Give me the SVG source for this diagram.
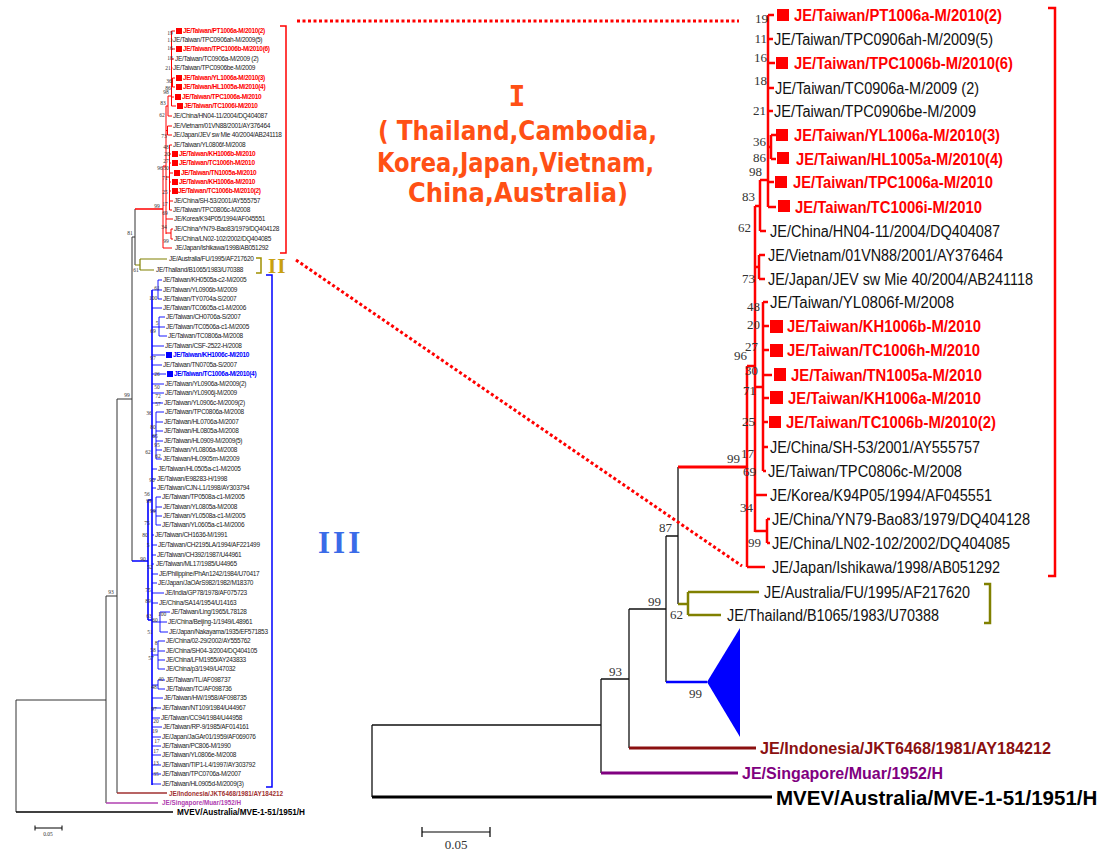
<svg xmlns="http://www.w3.org/2000/svg" width="1108" height="850" viewBox="0 0 1108 850">
<style>
text{font-family:"Liberation Sans",Arial,sans-serif}
.rn{font-size:16px;fill:#111}
.rb{font-size:16px;font-weight:bold;fill:#f00}
.bs{font-family:"Liberation Serif","Times New Roman",serif;font-size:13px;fill:#333;text-anchor:end}
.lt{font-size:6.5px;letter-spacing:-0.3px;fill:#222}
.lr{font-size:6.5px;letter-spacing:-0.35px;font-weight:bold;fill:#f00}
.lb{font-size:6.5px;letter-spacing:-0.35px;font-weight:bold;fill:#00f}
.ls{font-family:"Liberation Serif","Times New Roman",serif;font-size:5.5px;fill:#333;text-anchor:middle}
.ann{font-family:"DejaVu Sans",sans-serif;font-weight:bold;font-size:27px;fill:#ff5014}
.annI{font-family:"DejaVu Sans Mono",monospace;font-weight:bold;font-size:28px;fill:#ff5014;text-anchor:middle}
.roman{font-family:"Liberation Serif","Times New Roman",serif;font-weight:bold}
.k{stroke:#111;stroke-width:1.3;fill:none}
.kl{stroke:#333;stroke-width:1;fill:none}
.red{stroke:#f00;stroke-width:2.5;fill:none}
.redl{stroke:#f00;stroke-width:1;fill:none}
.blu{stroke:#00f;stroke-width:1.6;fill:none}
.blul{stroke:#00f;stroke-width:0.9;fill:none}
.olv{stroke:#808000;stroke-width:2.5;fill:none}
.olvl{stroke:#808000;stroke-width:1.2;fill:none}
.dot{stroke:#f00;stroke-width:3;stroke-dasharray:3 2.5;fill:none}
</style>

<!-- ============ CONNECTORS ============ -->
<g id="connectors">
  <!-- right tree backbone -->
  <path class="k" d="M372 725V797 M372 725H601 M601 679V773 M601 679H629 M629 609V748 M629 609H666 M666 536V682 M666 536H678 M678 467V604"/>
  <path class="olv" d="M678 604H688 M688 592V615 M688 592H759 M688 615H721"/>
  <path class="red" d="M678 467H747" style="stroke-width:3"/>
  <path class="red" d="M747 366V567 M747 567H765 M747 366H755 M755 206V532 M755 206H760 M760 180V231 M760 231H766 M760 180H768 M768 15V207 M768 15H774 M768 39H773 M768 63H775 M768 88H774 M768 111H773 M768 182H774 M768 207H776 M768 147H771 M771 135V159 M771 135H776 M771 159H776 M755 267H759 M759 255V279 M759 255H765 M759 279H765 M755 387H763 M763 302V471 M763 302H768 M763 326H769 M763 350H769 M763 375H772 M763 398H769 M763 422H768 M763 447H768 M763 471H766 M755 495H767 M755 531H767 M767 519V543 M767 519H770 M767 543H770"/>
  <path d="M666 682H707" stroke="#00f" stroke-width="2.5" fill="none"/>
  <polygon points="707,682 740,628 740,737" fill="#00f"/>
  <path d="M629 748H756" stroke="#8b1010" stroke-width="3" fill="none"/>
  <path d="M601 773H738" stroke="#800080" stroke-width="3" fill="none"/>
  <path d="M372 797H772" stroke="#000" stroke-width="3" fill="none"/>

  <!-- left tree backbone -->
  <path class="kl" d="M16 700V812 M16 700H106 M106 596V803 M106 596H117 M117 399V793 M117 399H132 M132 237V561 M132 237H135 M135 209V265"/>
  <path d="M16 812H173" stroke="#000" stroke-width="1.5" fill="none"/>
  <path d="M106 803H158" stroke="#b040b0" stroke-width="1.5" fill="none"/>
  <path d="M117 793H167" stroke="#a03030" stroke-width="1.5" fill="none"/>
  <path class="olvl" d="M135 265H140 M140 259V270 M140 259H167 M140 270H154"/>
  <path class="redl" d="M135 209H163" style="stroke-width:1.5"/>
  <path class="redl" d="M163 166V248 M163 248H172 M163 166H166 M166 106V234 M166 106H168 M168 96V116 M168 116H172 M168 96H171.5 M171.5 31V106 M171.5 31H175 M171.5 40H172.5 M171.5 49H175 M171.5 59H174 M171.5 68H172.5 M171.5 97H174 M171.5 106H176 M171.5 83H172.5 M172.5 78V87 M172.5 78H175 M172.5 87H175 M166 130.5H167.5 M167.5 126V135 M167.5 126H172 M167.5 135H172 M166 177H169.5 M169.5 145V210 M169.5 145H172 M169.5 154H171 M169.5 163H171 M169.5 173H173 M169.5 182H171 M169.5 191H171 M169.5 201H173 M169.5 210H172 M166 219H173 M166 233H171 M171 229V239 M171 229H173 M171 239H173"/>
  <path class="blu" d="M132 561H148 M148 500V620 M148 500H152 M148 620H152 M152 290V785"/>
  <path class="blul" d="M152 290H158 M158 280V299 M158 280H162 M158 290H162 M158 299H162 M152 308H162 M152 327H159 M159 317V336 M159 317H165 M159 327H165 M159 336H167 M152 346H164 M152 355H165 M152 365H162 M152 374H166 M152 384H164 M152 393H164 M152 403H163 M152 436H156 M156 412V459 M156 412H164 M156 422H163 M156 431H163 M156 441H163 M156 450H162 M156 459H162 M152 469H157 M152 479H156 M152 488H156 M152 511H156 M156 497V525 M156 497H161 M156 507H162 M156 516H162 M156 525H161 M152 535H154 M152 545H157 M152 555H156 M152 564H154 M152 574H158 M152 583H157 M152 593H164 M152 603H158 M152 622H160 M160 612V632 M160 612H170 M160 622H167 M160 632H168 M152 655H158 M158 641V669 M158 641H165 M158 651H165 M158 660H165 M158 669H165 M152 685H158 M158 680V689 M158 680H165 M158 689H165 M152 698H163 M152 708H161 M152 718H160 M152 727H162 M152 737H161 M152 746H161 M152 755H161 M152 765H161 M152 774H161 M152 784H161"/>

  <!-- brackets -->
  <path d="M1048 8H1055V576H1048" stroke="#f00" stroke-width="2.5" fill="none"/>
  <path d="M984 584H990V623H984" stroke="#808000" stroke-width="2.5" fill="none"/>
  <path d="M280 26H286V253H280" stroke="#f00" stroke-width="1.5" fill="none"/>
  <path d="M256 258H261V273H256" stroke="#a09000" stroke-width="1.5" fill="none"/>
  <path d="M266 275H272V787H266" stroke="#00f" stroke-width="1.5" fill="none"/>

  <!-- dotted zoom lines -->
  <path class="dot" d="M297 21H739"/>
  <path class="dot" d="M296 260L742 566"/>

  <!-- scale bars -->
  <path d="M422 832H490 M422 827V837 M490 827V837" stroke="#000" stroke-width="1.2" fill="none"/>
  <path d="M35 828H62 M35 825.5V830.5 M62 825.5V830.5" stroke="#000" stroke-width="1" fill="none"/>
</g>

<!-- ============ RIGHT TREE LEAVES ============ -->
<g id="r-PT1006a"><rect x="777" y="9" width="12" height="12" fill="#f00"/><text class="rb" x="794" y="21" textLength="208" lengthAdjust="spacingAndGlyphs">JE/Taiwan/PT1006a-M/2010(2)</text></g>
<g id="r-TPC0906ah"><text class="rn" x="774" y="45" textLength="219" lengthAdjust="spacingAndGlyphs">JE/Taiwan/TPC0906ah-M/2009(5)</text></g>
<g id="r-TPC1006b"><rect x="776" y="57" width="12" height="12" fill="#f00"/><text class="rb" x="794" y="69" textLength="219" lengthAdjust="spacingAndGlyphs">JE/Taiwan/TPC1006b-M/2010(6)</text></g>
<g id="r-TC0906a"><text class="rn" x="775" y="94" textLength="204" lengthAdjust="spacingAndGlyphs">JE/Taiwan/TC0906a-M/2009 (2)</text></g>
<g id="r-TPC0906be"><text class="rn" x="774" y="117" textLength="202" lengthAdjust="spacingAndGlyphs">JE/Taiwan/TPC0906be-M/2009</text></g>
<g id="r-YL1006a"><rect x="776" y="129" width="12" height="12" fill="#f00"/><text class="rb" x="794" y="141" textLength="206" lengthAdjust="spacingAndGlyphs">JE/Taiwan/YL1006a-M/2010(3)</text></g>
<g id="r-HL1005a"><rect x="777" y="152" width="12" height="12" fill="#f00"/><text class="rb" x="796" y="165" textLength="207" lengthAdjust="spacingAndGlyphs">JE/Taiwan/HL1005a-M/2010(4)</text></g>
<g id="r-TPC1006a"><rect x="775" y="176" width="12" height="12" fill="#f00"/><text class="rb" x="793" y="188" textLength="200" lengthAdjust="spacingAndGlyphs">JE/Taiwan/TPC1006a-M/2010</text></g>
<g id="r-TC1006i"><rect x="778" y="200" width="12" height="12" fill="#f00"/><text class="rb" x="795" y="213" textLength="187" lengthAdjust="spacingAndGlyphs">JE/Taiwan/TC1006i-M/2010</text></g>
<g id="r-HN04"><text class="rn" x="770" y="237" textLength="230" lengthAdjust="spacingAndGlyphs">JE/China/HN04-11/2004/DQ404087</text></g>
<g id="r-Vietnam"><text class="rn" x="768" y="261" textLength="235" lengthAdjust="spacingAndGlyphs">JE/Vietnam/01VN88/2001/AY376464</text></g>
<g id="r-JEVsw"><text class="rn" x="768" y="285" textLength="265" lengthAdjust="spacingAndGlyphs">JE/Japan/JEV sw Mie 40/2004/AB241118</text></g>
<g id="r-YL0806f"><text class="rn" x="770" y="308" textLength="184" lengthAdjust="spacingAndGlyphs">JE/Taiwan/YL0806f-M/2008</text></g>
<g id="r-KH1006b"><rect x="770" y="320" width="13" height="13" fill="#f00"/><text class="rb" x="787" y="332" textLength="194" lengthAdjust="spacingAndGlyphs">JE/Taiwan/KH1006b-M/2010</text></g>
<g id="r-TC1006h"><rect x="770" y="344" width="13" height="13" fill="#f00"/><text class="rb" x="787" y="356" textLength="193" lengthAdjust="spacingAndGlyphs">JE/Taiwan/TC1006h-M/2010</text></g>
<g id="r-TN1005a"><rect x="774" y="368" width="12" height="13" fill="#f00"/><text class="rb" x="791" y="381" textLength="191" lengthAdjust="spacingAndGlyphs">JE/Taiwan/TN1005a-M/2010</text></g>
<g id="r-KH1006a"><rect x="770" y="391" width="13" height="13" fill="#f00"/><text class="rb" x="788" y="404" textLength="193" lengthAdjust="spacingAndGlyphs">JE/Taiwan/KH1006a-M/2010</text></g>
<g id="r-TC1006b"><rect x="769" y="416" width="12" height="12" fill="#f00"/><text class="rb" x="786" y="428" textLength="210" lengthAdjust="spacingAndGlyphs">JE/Taiwan/TC1006b-M/2010(2)</text></g>
<g id="r-SH53"><text class="rn" x="770" y="453" textLength="210" lengthAdjust="spacingAndGlyphs">JE/China/SH-53/2001/AY555757</text></g>
<g id="r-TPC0806c"><text class="rn" x="768" y="477" textLength="194" lengthAdjust="spacingAndGlyphs">JE/Taiwan/TPC0806c-M/2008</text></g>
<g id="r-Korea"><text class="rn" x="770" y="501" textLength="222" lengthAdjust="spacingAndGlyphs">JE/Korea/K94P05/1994/AF045551</text></g>
<g id="r-YN79"><text class="rn" x="772" y="525" textLength="258" lengthAdjust="spacingAndGlyphs">JE/China/YN79-Bao83/1979/DQ404128</text></g>
<g id="r-LN02"><text class="rn" x="772" y="549" textLength="238" lengthAdjust="spacingAndGlyphs">JE/China/LN02-102/2002/DQ404085</text></g>
<g id="r-Ishikawa"><text class="rn" x="772" y="573" textLength="228" lengthAdjust="spacingAndGlyphs">JE/Japan/Ishikawa/1998/AB051292</text></g>
<g id="r-Australia"><text class="rn" x="764" y="598" textLength="206" lengthAdjust="spacingAndGlyphs">JE/Australia/FU/1995/AF217620</text></g>
<g id="r-Thailand"><text class="rn" x="727" y="621" textLength="212" lengthAdjust="spacingAndGlyphs">JE/Thailand/B1065/1983/U70388</text></g>
<g id="r-Indonesia"><text x="760" y="754" font-size="16" font-weight="bold" fill="#8b1010" textLength="291" lengthAdjust="spacingAndGlyphs">JE/Indonesia/JKT6468/1981/AY184212</text></g>
<g id="r-Singapore"><text x="742" y="779" font-size="16" font-weight="bold" fill="#800080" textLength="201" lengthAdjust="spacingAndGlyphs">JE/Singapore/Muar/1952/H</text></g>
<g id="r-MVEV"><text x="776" y="805" font-size="20.5" font-weight="bold" fill="#000">MVEV/Australia/MVE-1-51/1951/H</text></g>

<!-- right bootstrap values -->
<g id="r-bootstrap">
  <text class="bs" x="768" y="23">19</text><text class="bs" x="767" y="43">11</text><text class="bs" x="767" y="62">16</text><text class="bs" x="767" y="85">18</text>
  <text class="bs" x="766" y="115">21</text><text class="bs" x="766" y="146">36</text><text class="bs" x="766" y="162">86</text><text class="bs" x="762" y="176">98</text>
  <text class="bs" x="755" y="201">83</text><text class="bs" x="751" y="232">62</text><text class="bs" x="755" y="283">73</text><text class="bs" x="760" y="311">48</text>
  <text class="bs" x="760" y="329">20</text><text class="bs" x="758" y="351">27</text><text class="bs" x="747" y="360">96</text><text class="bs" x="758" y="375">30</text>
  <text class="bs" x="756" y="395">71</text><text class="bs" x="755" y="426">25</text><text class="bs" x="754" y="458">17</text><text class="bs" x="740" y="463">99</text>
  <text class="bs" x="756" y="476">69</text><text class="bs" x="753" y="512">34</text><text class="bs" x="761" y="547">99</text>
  <text class="bs" x="672" y="532">87</text><text class="bs" x="661" y="606">99</text><text class="bs" x="683" y="619">62</text>
  <text class="bs" x="622" y="676">93</text><text class="bs" x="702" y="698">99</text>
  <text class="bs" x="456" y="849" style="text-anchor:middle">0.05</text>
</g>

<!-- annotations -->
<g id="ann-I">
  <text class="annI" x="517" y="106">I</text>
  <text class="ann" x="378" y="140" textLength="279" lengthAdjust="spacingAndGlyphs">( Thailand,Cambodia,</text>
  <text class="ann" x="377" y="172" textLength="277" lengthAdjust="spacingAndGlyphs">Korea,Japan,Vietnam,</text>
  <text class="ann" x="408" y="202" textLength="220" lengthAdjust="spacingAndGlyphs">China,Australia)</text>
</g>
<g id="ann-II"><text class="roman" x="268" y="273" font-size="21" fill="#c8a010" letter-spacing="1">II</text></g>
<g id="ann-III"><text class="roman" x="318" y="553" font-size="31" fill="#3a6be8" letter-spacing="3">III</text></g>

<!-- ============ LEFT TREE LEAVES ============ -->
<g id="left-leaves">
<g id="l-PT1006a"><rect x="176" y="28" width="6" height="6" fill="#f00"/><text class="lr" x="183" y="33.3">JE/Taiwan/PT1006a-M/2010(2)</text></g>
<g id="l-TPC0906ah"><text class="lt" x="173" y="42.3">JE/Taiwan/TPC0906ah-M/2009(5)</text></g>
<g id="l-TPC1006b"><rect x="176" y="46" width="6" height="6" fill="#f00"/><text class="lr" x="183" y="51.3">JE/Taiwan/TPC1006b-M/2010(6)</text></g>
<g id="l-TC0906a"><text class="lt" x="175" y="61.3">JE/Taiwan/TC0906a-M/2009 (2)</text></g>
<g id="l-TPC0906be"><text class="lt" x="173" y="70.3">JE/Taiwan/TPC0906be-M/2009</text></g>
<g id="l-YL1006a"><rect x="176" y="75" width="6" height="6" fill="#f00"/><text class="lr" x="183" y="80.3">JE/Taiwan/YL1006a-M/2010(3)</text></g>
<g id="l-HL1005a"><rect x="176" y="84" width="6" height="6" fill="#f00"/><text class="lr" x="183" y="89.3">JE/Taiwan/HL1005a-M/2010(4)</text></g>
<g id="l-TPC1006a"><rect x="175" y="94" width="6" height="6" fill="#f00"/><text class="lr" x="182" y="99.3">JE/Taiwan/TPC1006a-M/2010</text></g>
<g id="l-TC1006i"><rect x="177" y="103" width="6" height="6" fill="#f00"/><text class="lr" x="184" y="108.3">JE/Taiwan/TC1006i-M/2010</text></g>
<g id="l-HN04"><text class="lt" x="173" y="118.3">JE/China/HN04-11/2004/DQ404087</text></g>
<g id="l-Vietnam"><text class="lt" x="173" y="128.3">JE/Vietnam/01VN88/2001/AY376464</text></g>
<g id="l-JEVsw"><text class="lt" x="173" y="137.3">JE/Japan/JEV sw Mie 40/2004/AB241118</text></g>
<g id="l-YL0806f"><text class="lt" x="173" y="147.3">JE/Taiwan/YL0806f-M/2008</text></g>
<g id="l-KH1006b"><rect x="172" y="151" width="6" height="6" fill="#f00"/><text class="lr" x="179" y="156.3">JE/Taiwan/KH1006b-M/2010</text></g>
<g id="l-TC1006h"><rect x="172" y="160" width="6" height="6" fill="#f00"/><text class="lr" x="179" y="165.3">JE/Taiwan/TC1006h-M/2010</text></g>
<g id="l-TN1005a"><rect x="174" y="170" width="6" height="6" fill="#f00"/><text class="lr" x="181" y="175.3">JE/Taiwan/TN1005a-M/2010</text></g>
<g id="l-KH1006a"><rect x="172" y="179" width="6" height="6" fill="#f00"/><text class="lr" x="179" y="184.3">JE/Taiwan/KH1006a-M/2010</text></g>
<g id="l-TC1006b"><rect x="172" y="188" width="6" height="6" fill="#f00"/><text class="lr" x="178" y="193.3">JE/Taiwan/TC1006b-M/2010(2)</text></g>
<g id="l-SH53"><text class="lt" x="174" y="203.3">JE/China/SH-53/2001/AY555757</text></g>
<g id="l-TPC0806c"><text class="lt" x="173" y="212.3">JE/Taiwan/TPC0806c-M2008</text></g>
<g id="l-Korea"><text class="lt" x="174" y="221.3">JE/Korea/K94P05/1994/AF045551</text></g>
<g id="l-YN79"><text class="lt" x="174" y="231.3">JE/China/YN79-Bao83/1979/DQ404128</text></g>
<g id="l-LN02"><text class="lt" x="174" y="241.3">JE/China/LN02-102/2002/DQ404085</text></g>
<g id="l-Ishikawa"><text class="lt" x="175" y="250.3">JE/Japan/Ishikawa/1998/AB051292</text></g>
<g id="l-Australia"><text class="lt" x="169" y="261.3">JE/Australia/FU/1995/AF217620</text></g>
<g id="l-Thailand"><text class="lt" x="156" y="272.3">JE/Thailand/B1065/1983/U70388</text></g>
<g id="l-KH0505a"><text class="lt" x="163" y="282.3">JE/Taiwan/KH0505a-c2-M/2005</text></g>
<g id="l-YL0906b"><text class="lt" x="163" y="292.3">JE/Taiwan/YL0906b-M/2009</text></g>
<g id="l-TY0704a"><text class="lt" x="163" y="301.3">JE/Taiwan/TY0704a-S/2007</text></g>
<g id="l-TC0605a"><text class="lt" x="163" y="310.3">JE/Taiwan/TC0605a-c1-M/2006</text></g>
<g id="l-CH0706a"><text class="lt" x="166" y="319.3">JE/Taiwan/CH0706a-S/2007</text></g>
<g id="l-TC0506a"><text class="lt" x="166" y="329.3">JE/Taiwan/TC0506a-c1-M/2005</text></g>
<g id="l-TC0806a"><text class="lt" x="168" y="338.3">JE/Taiwan/TC0806a-M/2008</text></g>
<g id="l-CSF"><text class="lt" x="165" y="348.3">JE/Taiwan/CSF-2522-H/2008</text></g>
<g id="l-KH1006c"><rect x="166" y="352" width="6" height="6" fill="#00f"/><text class="lb" x="173" y="357.3">JE/Taiwan/KH1006c-M/2010</text></g>
<g id="l-TN0705a"><text class="lt" x="163" y="367.3">JE/Taiwan/TN0705a-S/2007</text></g>
<g id="l-TC1006a"><rect x="167" y="371" width="6" height="6" fill="#00f"/><text class="lb" x="174" y="376.3">JE/Taiwan/TC1006a-M/2010(4)</text></g>
<g id="l-YL0906a"><text class="lt" x="165" y="386.3">JE/Taiwan/YL0906a-M/2009(2)</text></g>
<g id="l-YL0906j"><text class="lt" x="165" y="395.3">JE/Taiwan/YL0906j-M/2009</text></g>
<g id="l-YL0906c"><text class="lt" x="164" y="405.3">JE/Taiwan/YL0906c-M/2009(2)</text></g>
<g id="l-TPC0806a"><text class="lt" x="165" y="414.3">JE/Taiwan/TPC0806a-M/2008</text></g>
<g id="l-HL0706a"><text class="lt" x="164" y="424.3">JE/Taiwan/HL0706a-M/2007</text></g>
<g id="l-HL0805a"><text class="lt" x="164" y="433.3">JE/Taiwan/HL0805a-M/2008</text></g>
<g id="l-HL0909"><text class="lt" x="164" y="443.3">JE/Taiwan/HL0909-M/2009(5)</text></g>
<g id="l-YL0806a"><text class="lt" x="163" y="452.3">JE/Taiwan/YL0806a-M/2008</text></g>
<g id="l-HL0905m"><text class="lt" x="163" y="461.3">JE/Taiwan/HL0905m-M/2009</text></g>
<g id="l-HL0505a"><text class="lt" x="158" y="471.3">JE/Taiwan/HL0505a-c1-M/2005</text></g>
<g id="l-E98283"><text class="lt" x="157" y="481.3">JE/Taiwan/E98283-H/1998</text></g>
<g id="l-CJN"><text class="lt" x="157" y="490.3">JE/Taiwan/CJN-L1/1998/AY303794</text></g>
<g id="l-TP0508a"><text class="lt" x="162" y="499.3">JE/Taiwan/TP0508a-c1-M/2005</text></g>
<g id="l-YL0805a"><text class="lt" x="163" y="509.3">JE/Taiwan/YL0805a-M/2008</text></g>
<g id="l-YL0508a"><text class="lt" x="163" y="518.3">JE/Taiwan/YL0508a-c1-M/2005</text></g>
<g id="l-YL0605a"><text class="lt" x="162" y="527.3">JE/Taiwan/YL0605a-c1-M/2006</text></g>
<g id="l-CH1636"><text class="lt" x="155" y="537.3">JE/Taiwan/CH1636-M/1991</text></g>
<g id="l-CH2195"><text class="lt" x="158" y="547.3">JE/Taiwan/CH2195LA/1994/AF221499</text></g>
<g id="l-CH392"><text class="lt" x="157" y="557.3">JE/Taiwan/CH392/1987/U44961</text></g>
<g id="l-ML17"><text class="lt" x="156" y="566.3">JE/Taiwan/ML17/1985/U44965</text></g>
<g id="l-Philippine"><text class="lt" x="159" y="576.3">JE/Philippine/PhAn1242/1984/U70417</text></g>
<g id="l-JaOArS"><text class="lt" x="158" y="585.3">JE/Japan/JaOArS982/1982/M18370</text></g>
<g id="l-India"><text class="lt" x="165" y="595.3">JE/India/GP78/1978/AF075723</text></g>
<g id="l-SA14"><text class="lt" x="159" y="605.3">JE/China/SA14/1954/U14163</text></g>
<g id="l-Ling"><text class="lt" x="171" y="614.3">JE/Taiwan/Ling/1965/L78128</text></g>
<g id="l-Beijing"><text class="lt" x="168" y="624.3">JE/China/Beijing-1/1949/L48961</text></g>
<g id="l-Nakayama"><text class="lt" x="169" y="634.3">JE/Japan/Nakayama/1935/EF571853</text></g>
<g id="l-0229"><text class="lt" x="166" y="643.3">JE/China/02-29/2002/AY555762</text></g>
<g id="l-SH04"><text class="lt" x="166" y="653.3">JE/China/SH04-3/2004/DQ404105</text></g>
<g id="l-LFM"><text class="lt" x="166" y="662.3">JE/China/LFM1955/AY243833</text></g>
<g id="l-p3"><text class="lt" x="166" y="671.3">JE/China/p3/1949/U47032</text></g>
<g id="l-TL"><text class="lt" x="166" y="682.3">JE/Taiwan/TL/AF098737</text></g>
<g id="l-TC"><text class="lt" x="166" y="691.3">JE/Taiwan/TC/AF098736</text></g>
<g id="l-HW"><text class="lt" x="164" y="700.3">JE/Taiwan/HW/1958/AF098735</text></g>
<g id="l-NT109"><text class="lt" x="162" y="710.3">JE/Taiwan/NT109/1984/U44967</text></g>
<g id="l-CC94"><text class="lt" x="161" y="720.3">JE/Taiwan/CC94/1984/U44958</text></g>
<g id="l-RP9"><text class="lt" x="163" y="729.3">JE/Taiwan/RP-9/1985/AF014161</text></g>
<g id="l-JaGAr01"><text class="lt" x="162" y="739.3">JE/Japan/JaGAr01/1959/AF069076</text></g>
<g id="l-PC806"><text class="lt" x="162" y="748.3">JE/Taiwan/PC806-M/1990</text></g>
<g id="l-YL0806e"><text class="lt" x="162" y="757.3">JE/Taiwan/YL0806e-M/2008</text></g>
<g id="l-TIP1"><text class="lt" x="162" y="767.3">JE/Taiwan/TIP1-L4/1997/AY303792</text></g>
<g id="l-TPC0706a"><text class="lt" x="162" y="776.3">JE/Taiwan/TPC0706a-M/2007</text></g>
<g id="l-HL0905d"><text class="lt" x="162" y="786.3">JE/Taiwan/HL0905d-M/2009(3)</text></g>
<g id="l-Indonesia"><text x="169" y="796.3" font-size="6.8" font-weight="bold" fill="#a03030" textLength="114" lengthAdjust="spacingAndGlyphs">JE/Indonesia/JKT6468/1981/AY184212</text></g>
<g id="l-Singapore"><text x="162" y="805.3" font-size="6.8" font-weight="bold" fill="#b040b0" textLength="79" lengthAdjust="spacingAndGlyphs">JE/Singapore/Muar/1952/H</text></g>
<g id="l-MVEV"><text x="177" y="815" font-size="8.8" font-weight="bold" fill="#000" textLength="128" lengthAdjust="spacingAndGlyphs">MVEV/Australia/MVE-1-51/1951/H</text></g>
</g>

<!-- left bootstrap values -->
<g id="l-bootstrap">
  <text class="ls" x="170" y="35">19</text><text class="ls" x="170" y="42">11</text><text class="ls" x="170" y="50">16</text><text class="ls" x="170" y="60">18</text>
  <text class="ls" x="168" y="70">21</text><text class="ls" x="169" y="83">36</text><text class="ls" x="168" y="90">86</text><text class="ls" x="166" y="94">98</text>
  <text class="ls" x="163" y="105">83</text><text class="ls" x="162" y="117">62</text><text class="ls" x="164" y="138">73</text><text class="ls" x="166" y="149">48</text>
  <text class="ls" x="167" y="156">20</text><text class="ls" x="166" y="163">27</text><text class="ls" x="160" y="170">96</text><text class="ls" x="166" y="170">30</text>
  <text class="ls" x="165" y="180">71</text><text class="ls" x="165" y="194">25</text><text class="ls" x="165" y="206">17</text><text class="ls" x="157" y="208">99</text>
  <text class="ls" x="165" y="215">69</text><text class="ls" x="164" y="229">34</text><text class="ls" x="166" y="243">99</text>
  <text class="ls" x="130" y="235">81</text><text class="ls" x="136" y="272">61</text><text class="ls" x="127" y="397">99</text><text class="ls" x="111" y="594">93</text>
  <text class="ls" x="157" y="290">61</text><text class="ls" x="153" y="300">100</text><text class="ls" x="157" y="325">5</text><text class="ls" x="153" y="333">69</text>
  <text class="ls" x="153" y="360">97</text><text class="ls" x="157" y="376">26</text><text class="ls" x="157" y="389">50</text><text class="ls" x="158" y="398">72</text>
  <text class="ls" x="158" y="406">57</text><text class="ls" x="149" y="415">36</text><text class="ls" x="153" y="429">80</text><text class="ls" x="155" y="438">65</text>
  <text class="ls" x="157" y="447">95</text><text class="ls" x="148" y="454">62</text><text class="ls" x="158" y="458">62</text><text class="ls" x="152" y="482">90</text>
  <text class="ls" x="147" y="496">56</text><text class="ls" x="149" y="503">99</text><text class="ls" x="153" y="513">99</text><text class="ls" x="147" y="525">75</text>
  <text class="ls" x="145" y="537">80</text><text class="ls" x="148" y="547">5</text><text class="ls" x="143" y="561">90</text><text class="ls" x="150" y="569">52</text>
  <text class="ls" x="148" y="592">75</text><text class="ls" x="148" y="603">89</text><text class="ls" x="149" y="618">63</text><text class="ls" x="162" y="616">100</text>
  <text class="ls" x="155" y="622">60</text><text class="ls" x="150" y="634">51</text><text class="ls" x="156" y="645">8</text><text class="ls" x="153" y="652">58</text>
  <text class="ls" x="151" y="660">57</text><text class="ls" x="161" y="681">40</text><text class="ls" x="154" y="689">48</text><text class="ls" x="154" y="711">97</text>
  <text class="ls" x="156" y="723">20</text><text class="ls" x="155" y="733">19</text><text class="ls" x="157" y="743">17</text><text class="ls" x="156" y="753">17</text>
  <text class="ls" x="156" y="765">13</text><text class="ls" x="156" y="776">35</text>
  <text class="ls" x="48" y="836">0.05</text>
</g>
</svg>
